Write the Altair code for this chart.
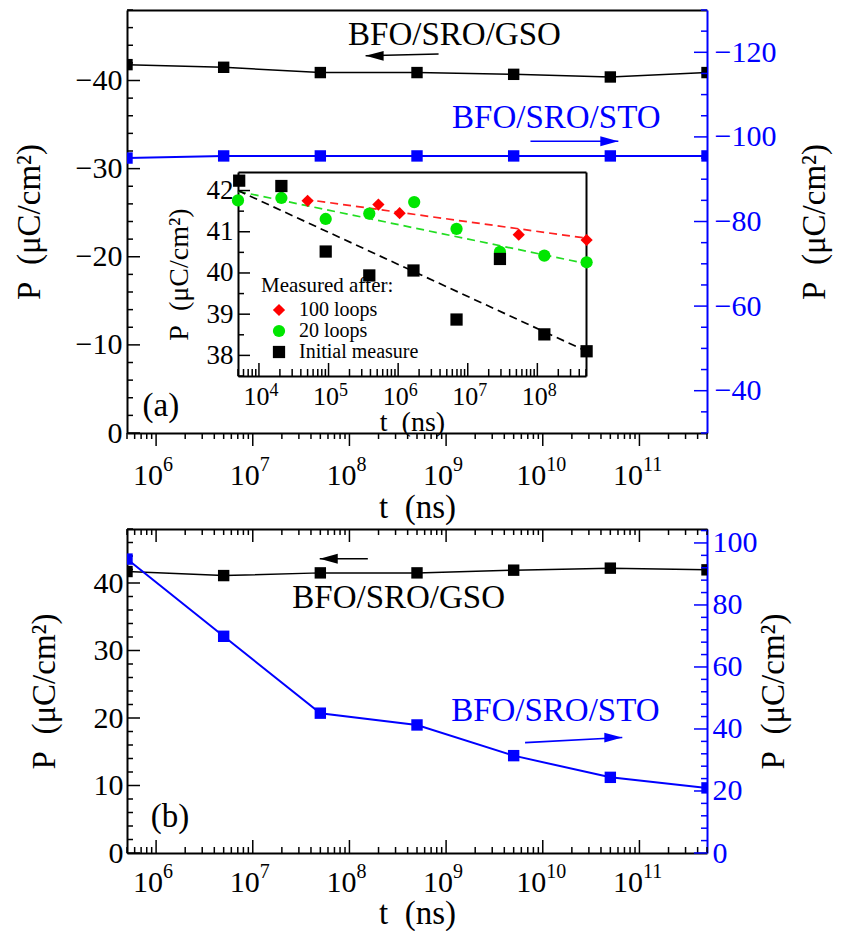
import altair as alt
import pandas as pd

FONT = "Liberation Serif"
BLUE = "#0000ff"
BLACK = "black"

# ---------------- data ----------------
t_main = [5e5, 5e6, 5e7, 5e8, 5e9, 5e10, 5e11]
gso_a = [-41.8, -41.5, -40.9, -40.9, -40.7, -40.4, -40.9]
sto_a = [-95.0, -95.5, -95.5, -95.5, -95.5, -95.5, -95.5]
gso_b = [41.7, 41.1, 41.5, 41.5, 41.9, 42.2, 41.95]
sto_b = [94.8, 69.9, 45.1, 41.3, 31.4, 24.4, 21.0]

ins_t_init = [5.2e3, 2.1e4, 9.1e4, 3.85e5, 1.66e6, 6.9e6, 2.9e7, 1.26e8, 5.1e8]
ins_p_init = [42.24, 42.11, 40.52, 39.94, 40.06, 38.87, 40.34, 38.51, 38.10]
ins_t_20 = [5.0e3, 2.1e4, 9.1e4, 3.85e5, 1.7e6, 6.9e6, 2.9e7, 1.26e8, 5.1e8]
ins_p_20 = [41.76, 41.82, 41.31, 41.44, 41.72, 41.07, 40.51, 40.42, 40.26]
ins_t_100 = [5.0e4, 5.2e5, 1.05e6, 5.4e7, 5.1e8]
ins_p_100 = [41.75, 41.66, 41.45, 40.93, 40.80]

fit_t_init = [5e3, 5.1e8]
fit_p_init = [42.0, 38.1]
fit_t_20 = [5e3, 5.3e8]
fit_p_20 = [41.98, 40.22]
fit_t_100 = [4.5e4, 5.3e8]
fit_p_100 = [41.79, 40.84]

series = ["100 loops", "20 loops", "Initial measure"]
series_colors = ["#ff0000", "#00e600", "#000000"]
series_shapes = ["diamond", "circle", "square"]
series_sizes = [150, 150, 81]
fit_colors = ["#ff2020", "#22dd22", "#000000"]

# annotations (positions in data units)
txt_a_t = [1.22e9, 1.38e10, 1.12e6]
txt_a_p = [-45.2, -35.75, -3.06]
txt_a_lab = ["BFO/SRO/GSO", "BFO/SRO/STO", "(a)"]
txt_a_col = [BLACK, BLUE, BLACK]
arr_a_t = [8.36e8, 7.46e9]
arr_a_p = [-43.0, -33.1]
arr_a_t2 = [1.47e8, 6.05e10]
arr_a_p2 = [-42.8, -33.1]
arr_a_col = [BLACK, BLUE]
arr_a_dir = ["left", "right"]

txt_b_t = [3.23e8, 1.35e10, 1.39e6]
txt_b_p = [37.8, 21.1, 5.27]
txt_b_lab = ["BFO/SRO/GSO", "BFO/SRO/STO", "(b)"]
txt_b_col = [BLACK, BLUE, BLACK]
arr_b_t = [1.55e8, 6.56e9]
arr_b_p = [43.6, 16.35]
arr_b_t2 = [4.93e7, 6.65e10]
arr_b_p2 = [43.6, 17.1]
arr_b_col = [BLACK, BLUE]
arr_b_dir = ["left", "right"]

HEAD = {"left": "M0,0L2,-0.55L2,0.55Z", "right": "M0,0L-2,-0.55L-2,0.55Z"}

# ---------------- tick helpers ----------------
def log_ticks(lo, hi, major):
    out = []
    for d in range(0, 13):
        for k in range(1, 10):
            v = float(k * 10 ** d)
            if lo * 0.999 <= v <= hi * 1.001 and ((k == 1) == major):
                out.append(v)
    return out

def lin_ticks(lo, hi, step, every, major):
    n = int(round((hi - lo) / step))
    vals = [lo + step * i for i in range(n + 1)]
    return [v for v in vals if (abs(v / every - round(v / every)) < 1e-9) == major]

EXP = "round(log(datum.value)/LN10)"
LOFF = {"condition": {"test": "datum.value > 5e9", "value": 3}, "value": 6.5}

def common(orient, offset):
    return dict(orient=orient, offset=offset, grid=False, minExtent=0)

def lab_axis(orient, values, expr, color=BLACK, size=30, pad=5, title=None, title_pad=10,
             title_size=33, domain=True, offset=0, **extra):
    kw = common(orient, offset)
    kw.update(values=values, ticks=False, labels=True, labelExpr=expr, labelColor=color,
              labelFont=FONT, labelFontSize=size, labelPadding=pad, labelOverlap=False,
              labelFlush=False, labelBound=False, domain=domain, domainColor=color,
              domainWidth=2)
    if title:
        kw.update(title=title, titleFont=FONT, titleFontSize=title_size,
                  titleFontWeight="normal", titleColor=BLACK, titlePadding=title_pad)
    else:
        kw.update(title=None)
    kw.update(extra)
    return alt.Axis(**kw)

def dom_axis(orient, color=BLACK, offset=0):
    kw = common(orient, offset)
    kw.update(ticks=False, labels=False, domain=True, domainColor=color, domainWidth=2,
              title=None)
    return alt.Axis(**kw)

def X(scale, axis=None):
    return alt.X("t:Q", scale=scale, axis=axis)

def Y(scale, axis=None):
    return alt.Y("P:Q", scale=scale, axis=axis)

def carrier(df, xs, ys, xaxis=None, yaxis=None):
    return alt.Chart(df).mark_point(opacity=0).encode(x=X(xs, xaxis), y=Y(ys, yaxis))

def tick_marks(values, edge, xs, ys, along, length, sign, color=BLACK):
    """Tick marks drawn at tick values through the scales, sitting on a frame edge."""
    n = len(values)
    if along == "x":
        df = pd.DataFrame({"t": values, "P": [edge] * n})
        mk = alt.Chart(df).mark_tick(orient="vertical", size=length, thickness=1.5,
                                     yOffset=sign * length / 2, color=color, opacity=1)
    else:
        df = pd.DataFrame({"t": [edge] * n, "P": values})
        mk = alt.Chart(df).mark_tick(orient="horizontal", size=length, thickness=1.5,
                                     xOffset=sign * length / 2, color=color, opacity=1)
    return mk.encode(x=X(xs), y=Y(ys))

PT = "P\u2002(\u03bcC/cm\u00b2)"
TT = "t\u2002(ns)"

W = 580
HA = 423
HB = 324

xs_main = alt.Scale(type="log", domain=[5e5, 5e11], nice=False)
xt_maj = log_ticks(5e5, 5e11, True)
xt_min = log_ticks(5e5, 5e11, False)

def data_layers(df_line, df_txt, df_arr, df_head, xs, ys):
    line = alt.Chart(df_line).mark_line(color=BLACK, strokeWidth=1.5, clip=True).encode(
        x=X(xs), y=Y(ys))
    pts = alt.Chart(df_line).mark_point(shape="square", filled=True, size=130, color=BLACK,
                                        opacity=1, clip=True).encode(x=X(xs), y=Y(ys))
    txt = alt.Chart(df_txt).mark_text(font=FONT, fontSize=33).encode(
        x=X(xs), y=Y(ys), text="label:N", color=alt.Color("c:N", scale=None))
    arr = alt.Chart(df_arr).mark_rule(strokeWidth=1.6).encode(
        x=X(xs), x2="t2:Q", y=Y(ys), y2="P2:Q", color=alt.Color("c:N", scale=None))
    head = alt.Chart(df_head).mark_point(filled=True, size=324, opacity=1, strokeWidth=0).encode(
        x=X(xs), y=Y(ys), color=alt.Color("c:N", scale=None), shape=alt.Shape("shp:N", scale=None))
    return [line, pts, txt, arr, head]

def blue_layers(df_line, xs, ys):
    line = alt.Chart(df_line).mark_line(color=BLUE, strokeWidth=2, clip=True).encode(
        x=X(xs), y=Y(ys))
    pts = alt.Chart(df_line).mark_point(shape="square", filled=True, size=130, color=BLUE,
                                        opacity=1, clip=True).encode(x=X(xs), y=Y(ys))
    return [line, pts]

# ---------------- panel (a) ----------------
ysA_L = alt.Scale(domain=[-48, 0], reverse=True, nice=False, zero=False)
ysA_R = alt.Scale(domain=[-130, -30], reverse=True, nice=False, zero=False)

df_gso_a = pd.DataFrame({"t": t_main, "P": gso_a})
df_sto_a = pd.DataFrame({"t": t_main, "P": sto_a})
df_txt_a = pd.DataFrame({"t": txt_a_t, "P": txt_a_p, "label": txt_a_lab, "c": txt_a_col})
df_arr_a = pd.DataFrame({"t": arr_a_t, "P": arr_a_p, "t2": arr_a_t2, "P2": arr_a_p2, "c": arr_a_col})
df_head_a = pd.DataFrame({"t": arr_a_t2, "P": arr_a_p2, "c": arr_a_col,
                          "shp": [HEAD[d] for d in arr_a_dir]})

aL_maj = lin_ticks(-48, 0, 2, 10, True)
aL_min = lin_ticks(-48, 0, 2, 10, False)
aR_maj = lin_ticks(-130, -30, 5, 20, True)
aR_min = lin_ticks(-130, -30, 5, 20, False)

a_bot_lab = lab_axis("bottom", xt_maj, "'10'", pad=27, title=TT, title_pad=1,
                     labelAlign="right", labelOffset=LOFF)
a_bot_exp = lab_axis("bottom", xt_maj, "format(" + EXP + ", 'd')", size=20, pad=21,
                     domain=False, labelAlign="left", labelOffset=LOFF)
a_left_lab = lab_axis("left", aL_maj, "format(datum.value, 'd')", pad=5, title=PT, title_pad=29)
a_right_lab = lab_axis("right", aR_maj, "format(datum.value, 'd')", color=BLUE, pad=7,
                       title=PT, title_pad=23, titleAngle=270, titleBaseline="top")

left_a = alt.layer(
    tick_marks(xt_maj, 0, xs_main, ysA_L, "x", 13, 1),
    tick_marks(xt_min, 0, xs_main, ysA_L, "x", 6, 1),
    tick_marks(aL_maj, 5e5, xs_main, ysA_L, "y", 13, 1),
    tick_marks(aL_min, 5e5, xs_main, ysA_L, "y", 6, 1),
    *data_layers(df_gso_a, df_txt_a, df_arr_a, df_head_a, xs_main, ysA_L),
    carrier(df_gso_a, xs_main, ysA_L, a_bot_lab, a_left_lab),
    carrier(df_gso_a, xs_main, ysA_L, a_bot_exp, None),
).resolve_axis(x="independent", y="independent")

right_a = alt.layer(
    tick_marks(aR_maj, 5e11, xs_main, ysA_R, "y", 13, -1, BLUE),
    tick_marks(aR_min, 5e11, xs_main, ysA_R, "y", 6, -1, BLUE),
    *blue_layers(df_sto_a, xs_main, ysA_R),
    carrier(df_sto_a, xs_main, ysA_R, dom_axis("top"), a_right_lab),
).resolve_axis(x="independent", y="independent")

main_a = alt.layer(left_a, right_a).resolve_scale(y="independent").resolve_axis(
    x="independent", y="independent")

# ---------------- inset ----------------
IN_L, IN_R, IN_T, IN_B = 111, 459, 162, 366
xs_in = alt.Scale(type="log", domain=[5e3, 5e8], nice=False, range=[IN_L, IN_R])
ys_in = alt.Scale(domain=[37.5, 42.45], nice=False, zero=False, range=[IN_B, IN_T])
in_x_maj = log_ticks(5e3, 5e8, True)
in_x_min = log_ticks(5e3, 5e8, False)
in_y_maj = lin_ticks(37.5, 42.0, 0.5, 1, True)
in_y_min = lin_ticks(37.5, 42.0, 0.5, 1, False)

df_in = pd.concat([
    pd.DataFrame({"t": ins_t_100, "P": ins_p_100, "s": series[0]}),
    pd.DataFrame({"t": ins_t_20, "P": ins_p_20, "s": series[1]}),
    pd.DataFrame({"t": ins_t_init, "P": ins_p_init, "s": series[2]}),
], ignore_index=True)
df_fit = pd.concat([
    pd.DataFrame({"t": fit_t_100, "P": fit_p_100, "s": series[0]}),
    pd.DataFrame({"t": fit_t_20, "P": fit_p_20, "s": series[1]}),
    pd.DataFrame({"t": fit_t_init, "P": fit_p_init, "s": series[2]}),
], ignore_index=True)

leg = alt.Legend(orient="none", legendX=134, legendY=265, title="Measured after:",
                 titleFont=FONT, titleFontSize=21, titleFontWeight="normal", titleColor=BLACK,
                 titlePadding=4, labelFont=FONT, labelFontSize=20, labelColor=BLACK,
                 symbolSize=150, symbolOffset=8, labelOffset=10, rowPadding=1, padding=0,
                 symbolStrokeWidth=0, titleLimit=300, labelLimit=300)

inset_lines = alt.Chart(df_fit).mark_line(strokeDash=[8, 5], strokeWidth=1.7).encode(
    x=X(xs_in), y=Y(ys_in),
    stroke=alt.Stroke("s:N", scale=alt.Scale(domain=series, range=fit_colors), legend=None),
    detail="s:N")
inset_pts = alt.Chart(df_in).mark_point(filled=True, opacity=1).encode(
    x=X(xs_in), y=Y(ys_in),
    color=alt.Color("s:N", scale=alt.Scale(domain=series, range=series_colors), legend=leg),
    shape=alt.Shape("s:N", scale=alt.Scale(domain=series, range=series_shapes), legend=leg),
    size=alt.Size("s:N", scale=alt.Scale(domain=series, range=series_sizes), legend=None))

in_bot_lab = lab_axis("bottom", in_x_maj, "'10'", size=26, pad=7.6, title=TT, title_pad=-1,
                      title_size=28, offset=IN_B - HA, labelAlign="right", labelOffset=10)
in_bot_exp = lab_axis("bottom", in_x_maj, "format(" + EXP + ", 'd')", size=18, pad=5.3,
                      domain=False, offset=IN_B - HA, labelAlign="left", labelOffset=10)
in_left_lab = lab_axis("left", in_y_maj, "format(datum.value, 'd')", size=27, pad=5,
                       title=PT, title_pad=13, title_size=28, offset=-IN_L)

inset = alt.layer(
    tick_marks(in_x_maj, 37.5, xs_in, ys_in, "x", 13, -1),
    tick_marks(in_x_min, 37.5, xs_in, ys_in, "x", 7, -1),
    tick_marks(in_y_maj, 5e3, xs_in, ys_in, "y", 12, 1),
    tick_marks(in_y_min, 5e3, xs_in, ys_in, "y", 6, 1),
    inset_lines, inset_pts,
    carrier(df_fit, xs_in, ys_in, in_bot_lab, in_left_lab),
    carrier(df_fit, xs_in, ys_in, in_bot_exp, dom_axis("right", offset=-(W - IN_R))),
    carrier(df_fit, xs_in, ys_in, dom_axis("top", offset=-IN_T), None),
).resolve_axis(x="independent", y="independent")

panel_a = alt.layer(main_a, inset).resolve_scale(x="independent", y="independent").properties(
    width=W, height=HA)

# ---------------- panel (b) ----------------
ysB_L = alt.Scale(domain=[0, 48], nice=False, zero=False)
ysB_R = alt.Scale(domain=[0, 104.5], nice=False, zero=False)

df_gso_b = pd.DataFrame({"t": t_main, "P": gso_b})
df_sto_b = pd.DataFrame({"t": t_main, "P": sto_b})
df_txt_b = pd.DataFrame({"t": txt_b_t, "P": txt_b_p, "label": txt_b_lab, "c": txt_b_col})
df_arr_b = pd.DataFrame({"t": arr_b_t, "P": arr_b_p, "t2": arr_b_t2, "P2": arr_b_p2, "c": arr_b_col})
df_head_b = pd.DataFrame({"t": arr_b_t2, "P": arr_b_p2, "c": arr_b_col,
                          "shp": [HEAD[d] for d in arr_b_dir]})

bL_maj = lin_ticks(0, 48, 2, 10, True)
bL_min = lin_ticks(0, 48, 2, 10, False)
bR_maj = lin_ticks(0, 104, 4, 20, True)
bR_min = lin_ticks(0, 104, 4, 20, False)

b_bot_lab = lab_axis("bottom", xt_maj, "'10'", pad=14, title=TT, title_pad=0,
                     labelAlign="right", labelOffset=LOFF)
b_bot_exp = lab_axis("bottom", xt_maj, "format(" + EXP + ", 'd')", size=20, pad=8.4,
                     domain=False, labelAlign="left", labelOffset=LOFF)
b_left_lab = lab_axis("left", bL_maj, "format(datum.value, 'd')", pad=4, title=PT, title_pad=32)
b_right_lab = lab_axis("right", bR_maj, "format(datum.value, 'd')", color=BLUE, pad=5,
                       title=PT, title_pad=0, titleAngle=270, titleBaseline="top")

left_b = alt.layer(
    tick_marks(xt_maj, 0, xs_main, ysB_L, "x", 13, -1),
    tick_marks(xt_min, 0, xs_main, ysB_L, "x", 6, -1),
    tick_marks(xt_maj, 48, xs_main, ysB_L, "x", 13, 1),
    tick_marks(xt_min, 48, xs_main, ysB_L, "x", 6, 1),
    tick_marks(bL_maj, 5e5, xs_main, ysB_L, "y", 13, 1),
    tick_marks(bL_min, 5e5, xs_main, ysB_L, "y", 6, 1),
    *data_layers(df_gso_b, df_txt_b, df_arr_b, df_head_b, xs_main, ysB_L),
    carrier(df_gso_b, xs_main, ysB_L, b_bot_lab, b_left_lab),
    carrier(df_gso_b, xs_main, ysB_L, b_bot_exp, None),
    carrier(df_gso_b, xs_main, ysB_L, dom_axis("top"), None),
).resolve_axis(x="independent", y="independent")

right_b = alt.layer(
    tick_marks(bR_maj, 5e11, xs_main, ysB_R, "y", 13, -1, BLUE),
    tick_marks(bR_min, 5e11, xs_main, ysB_R, "y", 6, -1, BLUE),
    *blue_layers(df_sto_b, xs_main, ysB_R),
    carrier(df_sto_b, xs_main, ysB_R, None, b_right_lab),
).resolve_axis(x="independent", y="independent")

panel_b = alt.layer(left_b, right_b).resolve_scale(y="independent").resolve_axis(
    x="independent", y="independent").properties(width=W, height=HB)

chart = alt.vconcat(panel_a, panel_b, spacing=2).properties(
    padding={"left": 4, "top": 0, "right": 5, "bottom": 0},
    background="white",
).configure_view(strokeOpacity=0).configure(font=FONT)

chart.save("out.html", embed_options={"renderer": "svg", "actions": False})
